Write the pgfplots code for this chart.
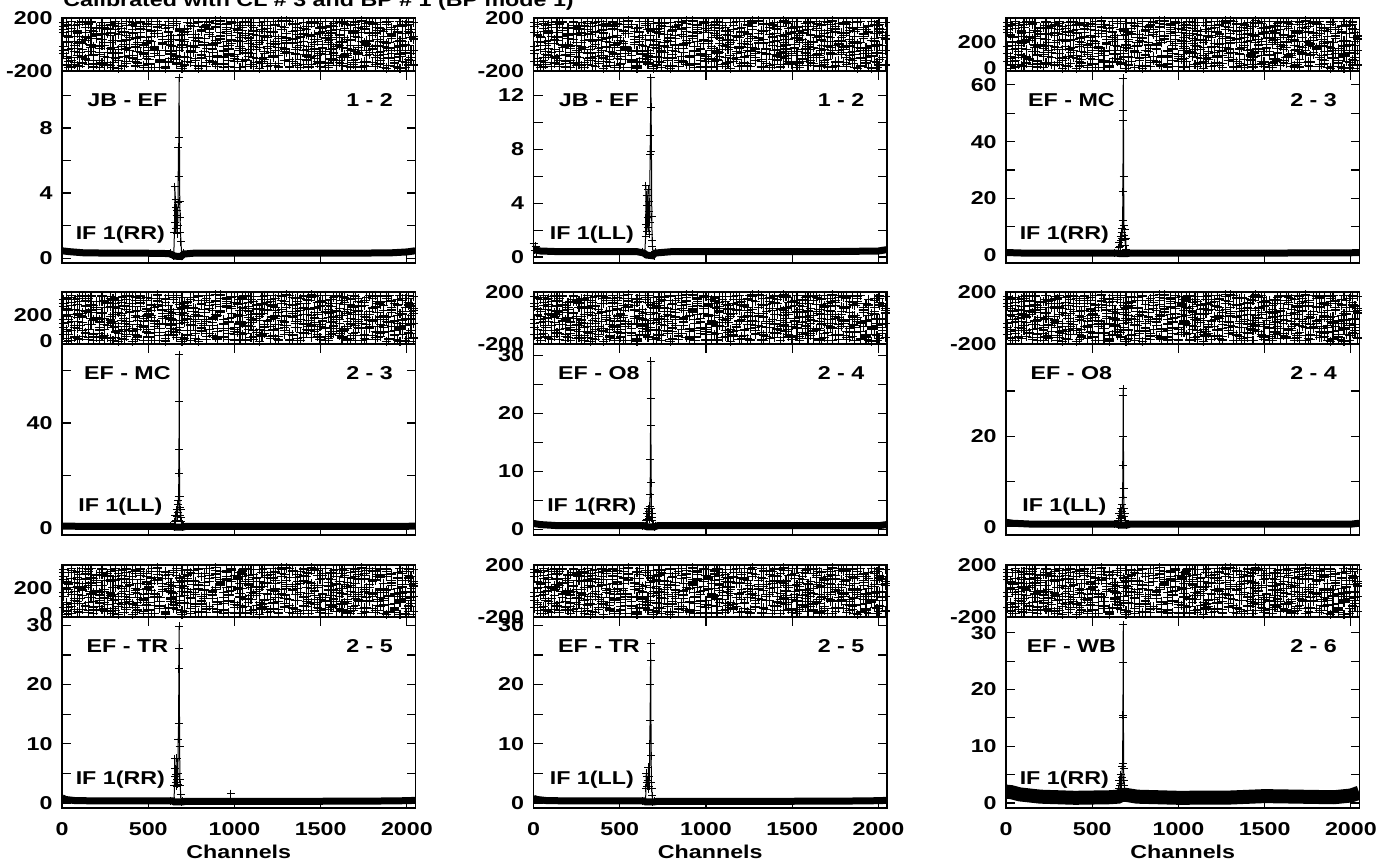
\documentclass[border=0pt]{standalone}
\usepackage{fontspec}
\setmainfont{Liberation Sans}[FakeStretch=1.25]
\usepackage{pgfplots}
\pgfplotsset{compat=1.18}
\usepackage{pgfplotstable}

\pgfplotstableread{
x a b c d e f g h
8 112 -45 167 -130 -71 139 -12 88
24 -88 23 -152 74 154 -103 66 -161
40 140 -171 51 -9 -36 58 -127 12
56 -27 96 -118 158 121 -170 175 -97
72 63 -139 -6 -74 -149 24 -55 143
88 -160 148 87 31 7 -82 102 -28
104 19 -60 -97 125 168 150 -166 61
120 171 8 -143 -38 -94 -37 38 -139
136 -115 131 29 92 52 91 -109 170
152 45 -86 162 -166 -122 -153 151 -53
168 -52 174 -23 58 165 62 -4 107
184 97 -14 -79 -125 -15 -119 -142 -170
200 -148 67 121 3 84 127 79 44
216 128 -120 -58 -92 -172 -11 -31 -76
232 -6 39 144 171 36 -140 168 125
248 -133 -158 12 -47 131 79 -88 -6
264 80 110 -101 136 -57 -58 122 -151
280 152 -33 70 -15 12 163 -160 91
296 -70 -176 -135 84 146 -26 27 -39
312 28 85 176 -149 -108 115 -67 160
328 -178 -64 -40 40 73 -95 135 -118
344 119 157 99 -107 -161 32 -18 20
360 -39 -2 -167 163 97 -165 92 -89
376 68 -127 34 -62 -29 142 -144 176
392 -99 50 -81 109 176 -48 41 -25
408 165 -95 147 -178 -83 87 -103 115
424 3 136 -12 22 48 -128 159 -162
440 -146 -21 -113 -90 -137 13 -51 55
456 88 172 60 147 114 168 117 -63
472 -61 -69 -156 -24 -4 -73 -174 134
488 134 18 110 69 155 53 10 -108
504 -22 -149 -47 -142 -116 -147 -91 31
520 57 99 173 7 22 105 153 -172
536 -172 -40 -29 -113 -66 -19 -25 80
552 104 126 82 178 132 172 86 -44
568 -84 -112 -122 -51 -175 -84 -132 149
584 10 61 15 95 62 36 57 -3
600 146 -178 -169 -160 -45 -136 -175 118
616 -128 2 129 52 172 94 20 -131
632 36 -54 -66 -8 -103 -5 -78 67
648 -105 143 41 -131 40 158 161 -17
664 159 -87 -140 116 -147 -112 -44 175
680 -44 30 95 -71 117 65 104 -94
696 77 -165 -4 156 -20 -179 -153 39
712 -157 115 -92 -33 89 20 36 -155
728 124 -8 163 81 -131 118 -99 96
744 -13 -133 -53 -175 158 -61 145 -49
760 50 77 136 14 -60 75 -11 160
776 -120 -25 -107 -97 30 -157 75 -120
792 176 164 53 134 -178 43 -168 22
808 -79 -102 -161 -42 102 -98 112 -73
824 14 43 2 66 -9 133 -56 132
840 -139 -168 -136 -122 147 -28 174 -167
856 93 120 116 173 -88 170 -122 76
872 -34 -59 -31 -3 59 -132 4 -10
888 137 11 156 101 -152 30 131 179
904 -163 -141 -89 -158 16 -80 -83 -101
920 41 89 69 46 177 152 58 45
936 -94 -13 -174 -80 -43 -50 -150 -146
952 155 152 24 141 125 85 95 112
968 -5 -79 -71 -28 -118 -168 -27 -34
984 71 33 171 88 35 6 162 160
1000 -125 -176 -127 -165 -76 119 -106 -88
1016 115 106 92 10 163 -110 21 29
1032 -48 -44 -16 -109 -31 55 -171 140
1048 20 164 131 154 80 -42 109 -126
1064 -169 -117 -59 -56 -165 176 -64 70
1080 86 54 44 122 6 -91 166 -58
1096 -66 -151 -149 -10 140 28 -35 168
1112 167 128 102 -145 -98 -164 74 -17
1128 -109 -3 -37 35 68 100 -139 98
1144 31 71 167 -86 -129 -20 13 -179
1160 -142 -131 -104 168 112 143 142 33
1176 101 176 64 60 -50 -116 -95 -69
1192 -18 -30 -163 -19 173 68 55 121
1208 145 94 9 130 -12 -63 -158 -142
1224 -87 -92 -94 -137 91 171 100 8
1240 61 21 140 79 -156 -3 -47 152
1256 -174 -163 -25 -49 43 -145 171 -83
1272 9 138 178 162 136 113 -20 63
1288 130 -56 -119 -96 -70 -35 -124 -30
1304 -58 81 33 18 11 49 83 177
1320 176 -125 -62 107 -175 -126 -165 -111
1336 -131 5 149 -170 99 160 35 14
1352 47 149 -141 -30 -39 -70 -72 104
1368 -25 -75 76 73 157 16 129 -157
1384 109 59 -9 147 -110 -173 -9 55
1400 -152 -150 122 -115 26 82 169 -46
1416 75 112 -78 27 -87 -39 -117 139
1432 -97 -18 -170 -64 167 136 68 -95
1448 158 171 58 179 -54 -88 -150 17
1464 -36 -106 -34 -5 77 1 39 169
1480 25 40 160 118 -141 174 -85 -125
1496 -165 -67 -132 -152 130 -53 122 87
1512 121 133 98 43 -2 98 -29 -22
1528 -73 -143 -50 -83 49 -176 176 132
1544 2 68 13 96 -160 33 -140 -173
1560 142 -37 -114 -128 109 -104 87 40
1576 -117 161 135 12 -27 156 -59 -66
1592 54 -81 -160 165 171 -12 2 110
1608 -9 16 73 -41 -121 71 164 -137
1624 163 -160 -20 135 17 -146 -100 19
1640 -90 103 172 -99 -79 122 52 156
1656 37 -28 -98 64 151 -65 -169 -81
1672 -176 145 28 -161 -46 41 106 -5
1688 94 -119 -152 25 85 -133 -41 174
1704 -55 57 109 -13 -170 165 149 -114
1720 127 -9 -64 150 54 -26 -77 92
1736 -136 -170 177 -72 119 92 24 -43
1752 15 117 -5 99 -133 -156 -126 136
1768 -83 -48 -125 -134 4 27 157 -168
1784 170 26 87 53 -63 -77 -15 28
1800 -30 -137 -39 -20 162 148 71 81
1816 82 88 154 175 -101 -9 -167 -153
1832 -150 -63 -84 -110 39 109 127 -11
1848 106 169 20 8 -145 -122 -53 119
1864 -12 -108 -174 -56 96 60 19 -74
1880 150 6 115 128 -24 -178 175 166
1896 -103 -157 -43 -163 175 14 -102 -33
1912 66 79 62 81 -68 131 43 58
1928 -168 -22 -146 -29 111 -99 -135 -124
1944 22 141 139 140 -176 -45 93 100
1960 -77 -89 -11 -87 33 174 -65 -179
1976 135 48 80 33 -126 -15 150 24
1992 -42 -171 -137 -173 147 83 -2 -59
2008 173 100 166 117 -7 -115 -155 148
2024 -118 -47 -70 -8 92 52 114 -99
2040 59 166 45 70 -148 -161 -42 37
}\phase

\newcommand\lbl{\fontsize{9.3}{10}\selectfont\bfseries}

\pgfplotsset{
  base/.style={scale only axis, width=176.75pt, anchor=south west,
    tick align=inside, major tick length=4.5pt, minor tick length=4.5pt,
    xmin=0, xmax=2050, xtick={0,500,1000,1500,2000},
    axis line style={line width=0.6pt}, every tick/.style={black, line width=0.6pt},
    tick label style={font=\lbl, inner sep=0pt},
    /pgf/number format/assume math mode=true, /pgf/number format/1000 sep={},
    yticklabel style={xshift=-4.5pt}, xticklabel style={yshift=-7pt}},
  ph/.style={base, xticklabels={}, clip=false},
  phs/.style={ph, ymin=-200, ymax=200, ytick={-200,200}},
  phu/.style={ph, ymin=-20, ymax=380, ytick={0,200}},
  amp/.style={base, xticklabels={}},
  bot/.style={base, xticklabels={0,500,1000,1500,2000}, xlabel={Channels},
    xlabel style={font=\lbl, inner sep=0pt, at={(axis description cs:0.5,0)}, anchor=north, yshift=-18.5pt}},
  pm/.style={only marks, mark=+, mark size=2.3pt, line width=0.55pt, black},
  band/.style={no marks, black, line width=3.5pt},
  spk/.style={black, mark=+, mark size=2pt, line width=0.5pt},
}
\newcommand\phs[1]{\pgfplotsinvokeforeach{#1}{\addplot[pm] table[x=x, y=##1]{\phase};}}
\newcommand\phu[1]{\pgfplotsinvokeforeach{#1}{\addplot[pm] table[x=x, y expr=\thisrow{##1}+180]{\phase};}}
\newcommand\lab[3]{%
  \node[font=\lbl, inner sep=0pt] at (rel axis cs:0.185,0.85) {#1};
  \node[font=\lbl, inner sep=0pt] at (rel axis cs:0.87,0.85) {#2};
  \node[font=\lbl, inner sep=0pt] at (rel axis cs:0.165,0.146) {#3};}

\begin{document}
\begin{tikzpicture}
\useasboundingbox (0,0) rectangle (689.5pt,432pt);
\node[font=\lbl, inner sep=0pt, anchor=base west] at (31.5pt,428.5pt) {Calibrated with CL \# 3 and BP \# 1 (BP mode 1)};

% ---------------- Row 1 ----------------
\begin{axis}[phs, at={(31pt,396.5pt)}, height=26.5pt]
\phs{a,b,c,e,f,g,h}
\end{axis}
\begin{axis}[amp, at={(31pt,300.5pt)}, height=96pt, ymin=-0.3, ymax=11.5, ytick={0,4,8}, minor ytick={2,6,10}]
\addplot[band] coordinates {(0,0.45)(40,0.4)(120,0.33)(300,0.3)(500,0.3)(620,0.28)(640,0.2)(655,0.12)(690,0.1)(706,0.25)(760,0.3)(1000,0.3)(1500,0.3)(1900,0.32)(2000,0.38)(2048,0.45)};
\addplot[spk] coordinates {(630,0.3)(640,0.2)(648,0.1)(652,1.6)(655,4.4)(657,2.2)(659,3.6)(661,1.8)(663,3.1)(665,2.6)(667,1.5)(669,2.9)(671,2.0)(673,3.4)(675,6.8)(677,5.0)(679,11.1)(681,7.4)(683,3.5)(685,2.5)(687,1.6)(690,1.0)(694,0.2)(700,0.1)(706,0.3)};
\lab{JB - EF}{1 - 2}{IF 1(RR)}
\end{axis}

\begin{axis}[phs, at={(266.75pt,396.5pt)}, height=26.5pt]
\phs{b,c,d,e,f,g,h}
\end{axis}
\begin{axis}[amp, at={(266.75pt,300.5pt)}, height=96pt, ymin=-0.44, ymax=13.8, ytick={0,4,8,12}, minor ytick={2,6,10}]
\addplot[band] coordinates {(0,0.55)(40,0.45)(150,0.4)(400,0.4)(600,0.4)(640,0.3)(655,0.15)(690,0.1)(706,0.3)(800,0.4)(1200,0.4)(1700,0.4)(2000,0.45)(2048,0.55)};
\addplot[spk] coordinates {(0,1.0)(6,0.5)(12,0.8)(18,0.4)};
\addplot[spk] coordinates {(630,0.4)(645,0.2)(650,1.5)(652,5.3)(654,2.4)(656,4.6)(658,1.9)(660,3.8)(662,2.9)(664,5.0)(666,2.2)(668,3.4)(670,1.7)(672,4.1)(674,2.6)(676,7.6)(678,9.0)(680,13.3)(682,11.1)(684,7.8)(686,3.0)(688,1.2)(690,0.8)(694,0.2)(700,0.1)(706,0.4)};
\lab{JB - EF}{1 - 2}{IF 1(LL)}
\end{axis}

\begin{axis}[phu, at={(503pt,396.5pt)}, height=26.5pt]
\phu{c,d,a,g,h,e,f}
\end{axis}
\begin{axis}[amp, at={(503pt,300.5pt)}, height=96pt, ymin=-2.8, ymax=64.9, ytick={0,20,40,60}, minor ytick={10,30,50}]
\addplot[band] coordinates {(0,0.9)(100,0.7)(400,0.7)(640,0.7)(660,0.5)(700,0.5)(720,0.7)(1000,0.7)(1500,0.7)(2000,0.8)(2048,0.9)};
\addplot[spk] coordinates {(630,0.8)(650,0.6)(655,2.5)(658,4.5)(661,3.0)(664,6.5)(667,5.0)(670,8.0)(672,6.0)(674,9.5)(676,12.3)(678,22.4)(679,47.5)(680,62.4)(681,51.0)(682,27.8)(684,10.5)(686,7.0)(688,9.0)(690,5.5)(692,3.5)(694,6.0)(696,2.0)(700,0.6)(706,0.8)};
\lab{EF - MC}{2 - 3}{IF 1(RR)}
\end{axis}

% ---------------- Row 2 ----------------
\begin{axis}[phu, at={(31pt,260pt)}, height=26pt]
\phu{d,a,b,h,e,f,g}
\end{axis}
\begin{axis}[amp, at={(31pt,164.5pt)}, height=95.5pt, ymin=-2.5, ymax=70, ytick={0,40}, minor ytick={20,60}]
\addplot[band] coordinates {(0,0.9)(100,0.8)(400,0.8)(640,0.8)(660,0.5)(700,0.5)(720,0.8)(1000,0.8)(1500,0.8)(2000,0.8)(2048,0.9)};
\addplot[spk] coordinates {(630,0.8)(650,0.6)(655,2.5)(658,5.0)(661,3.0)(664,7.0)(667,4.5)(670,9.0)(672,6.0)(674,10.5)(676,12.3)(678,21.0)(679,48)(680,66)(681,30)(682,12)(684,8)(686,5)(688,7)(690,4)(692,2.5)(696,1.5)(700,0.6)(706,0.8)};
\lab{EF - MC}{2 - 3}{IF 1(LL)}
\end{axis}

\begin{axis}[phs, at={(266.75pt,260pt)}, height=26pt]
\phs{a,c,d,e,g,h,b}
\end{axis}
\begin{axis}[amp, at={(266.75pt,164.5pt)}, height=95.5pt, ymin=-1, ymax=32, ytick={0,10,20,30}, minor ytick={5,15,25}]
\addplot[band] coordinates {(0,1.0)(40,0.8)(150,0.6)(400,0.6)(640,0.6)(660,0.4)(700,0.4)(720,0.6)(1000,0.6)(1500,0.6)(2000,0.6)(2048,0.8)};
\addplot[spk] coordinates {(630,0.6)(650,0.5)(655,1.5)(658,2.8)(661,1.6)(664,3.5)(667,2.2)(670,3.0)(672,1.8)(674,4.0)(676,6.0)(678,12.0)(679,22.6)(680,29.0)(681,18.0)(682,8.0)(684,3.5)(686,2.0)(688,2.8)(690,1.5)(694,0.8)(700,0.4)(706,0.6)};
\lab{EF - O8}{2 - 4}{IF 1(RR)}
\end{axis}

\begin{axis}[phs, at={(503pt,260pt)}, height=26pt]
\phs{b,d,a,f,h,e,c}
\end{axis}
\begin{axis}[amp, at={(503pt,164.5pt)}, height=95.5pt, ymin=-1.8, ymax=40.4, ytick={0,20}, minor ytick={10,30}]
\addplot[band] coordinates {(0,1.0)(40,0.8)(150,0.6)(400,0.6)(640,0.6)(660,0.4)(700,0.4)(720,0.6)(1000,0.6)(1500,0.6)(2000,0.6)(2048,0.8)};
\addplot[spk] coordinates {(630,0.6)(650,0.5)(655,1.5)(658,3.0)(661,1.8)(664,4.0)(667,2.5)(670,3.5)(672,2.0)(674,5.0)(676,6.5)(678,13.6)(679,29.0)(680,30.5)(681,20.0)(682,8.5)(684,4.0)(686,2.2)(688,3.0)(690,1.5)(694,0.8)(700,0.4)(706,0.6)};
\lab{EF - O8}{2 - 4}{IF 1(LL)}
\end{axis}

% ---------------- Row 3 ----------------
\begin{axis}[phu, at={(31pt,123.5pt)}, height=26pt]
\phu{b,c,d,f,g,h,a}
\end{axis}
\begin{axis}[bot, at={(31pt,28pt)}, height=95.5pt, ymin=-0.84, ymax=31.4, ytick={0,10,20,30}, minor ytick={5,15,25}]
\addplot[band] coordinates {(0,0.9)(20,0.6)(80,0.4)(300,0.35)(640,0.35)(650,0.2)(700,0.2)(720,0.3)(1000,0.3)(1500,0.3)(1900,0.35)(2000,0.4)(2048,0.45)};
\addplot[spk] coordinates {(630,0.3)(650,0.3)(652,3.0)(654,7.5)(656,4.5)(658,5.8)(660,3.5)(662,4.8)(664,2.8)(666,7.6)(668,4.0)(670,3.2)(672,5.0)(674,10.8)(676,13.5)(678,22.7)(679,29.8)(680,26.1)(682,9.5)(684,4.0)(686,3.0)(688,1.5)(692,0.2)(700,0.3)};
\addplot[spk, only marks] coordinates {(980,1.6)};
\lab{EF - TR}{2 - 5}{IF 1(RR)}
\end{axis}

\begin{axis}[phs, at={(266.75pt,123.5pt)}, height=26pt]
\phs{c,a,b,g,e,f,d}
\end{axis}
\begin{axis}[bot, at={(266.75pt,28pt)}, height=95.5pt, ymin=-0.84, ymax=31.4, ytick={0,10,20,30}, minor ytick={5,15,25}]
\addplot[band] coordinates {(0,0.8)(20,0.6)(80,0.4)(300,0.35)(640,0.35)(650,0.2)(700,0.2)(720,0.3)(1000,0.3)(1500,0.3)(1900,0.35)(2000,0.4)(2048,0.45)};
\addplot[spk] coordinates {(630,0.3)(650,0.3)(652,2.5)(654,5.0)(656,3.5)(658,4.5)(660,2.8)(662,3.8)(664,2.4)(666,6.0)(668,3.5)(670,2.8)(672,4.5)(674,10.0)(676,14.0)(678,20.0)(679,27.0)(680,24.0)(682,8.0)(684,3.5)(686,2.5)(688,1.2)(692,0.2)(700,0.3)};
\lab{EF - TR}{2 - 5}{IF 1(LL)}
\end{axis}

\begin{axis}[phs, at={(503pt,123.5pt)}, height=26pt]
\phs{d,b,c,h,f,g,a}
\end{axis}
\begin{axis}[bot, at={(503pt,28pt)}, height=95.5pt, ymin=-0.9, ymax=32.8, ytick={0,10,20,30}, minor ytick={5,15,25}]
\addplot[band, line width=7pt] coordinates {(0,2.0)(30,1.9)(80,1.5)(200,1.1)(400,0.9)(600,1.0)(650,1.1)(670,1.4)(700,1.4)(760,1.1)(1000,0.9)(1300,0.95)(1500,1.2)(1700,1.1)(1900,1.0)(2000,1.3)(2048,1.8)};
\addplot[spk] coordinates {(630,1.0)(650,1.2)(655,2.5)(658,4.0)(661,3.0)(664,5.0)(667,3.5)(670,4.5)(672,3.0)(674,6.5)(676,7.0)(678,15.5)(679,24.7)(680,31.4)(681,15.0)(682,6.0)(684,4.0)(686,3.0)(688,2.5)(692,1.5)(700,1.3)};
\lab{EF - WB}{2 - 6}{IF 1(RR)}
\end{axis}
\end{tikzpicture}
\end{document}
